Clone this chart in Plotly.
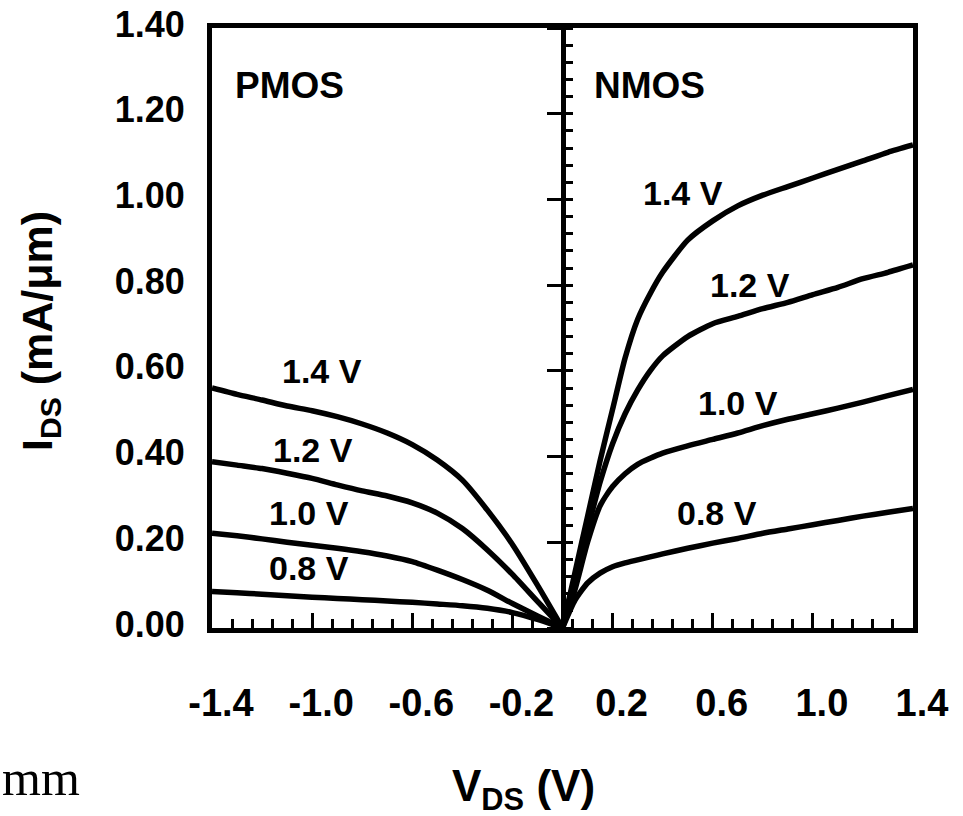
import plotly.graph_objects as go

# ---------------- data ----------------
gate_labels = ["1.4 V", "1.2 V", "1.0 V", "0.8 V"]

# NMOS output characteristics (V_DS >= 0)
nmos_vds = [0.0, 0.05, 0.1, 0.15, 0.2, 0.25, 0.3, 0.35, 0.4, 0.5, 0.6, 0.7, 0.8, 0.9, 1.0, 1.1, 1.2, 1.3, 1.4]
nmos_14 = [0.0, 0.13, 0.26, 0.39, 0.51, 0.63, 0.72, 0.78, 0.83, 0.905, 0.95, 0.985, 1.01, 1.03, 1.05, 1.07, 1.09, 1.11, 1.127]
nmos_12 = [0.0, 0.12, 0.23, 0.34, 0.43, 0.50, 0.555, 0.60, 0.635, 0.68, 0.71, 0.727, 0.745, 0.76, 0.778, 0.795, 0.815, 0.83, 0.847]
nmos_10 = [0.0, 0.09, 0.20, 0.285, 0.33, 0.36, 0.382, 0.396, 0.408, 0.425, 0.44, 0.455, 0.472, 0.487, 0.50, 0.513, 0.527, 0.542, 0.557]
nmos_08 = [0.0, 0.065, 0.105, 0.128, 0.143, 0.152, 0.159, 0.166, 0.173, 0.186, 0.198, 0.209, 0.221, 0.231, 0.241, 0.251, 0.261, 0.270, 0.279]

# PMOS output characteristics (V_DS <= 0), plotted as |I_DS|
pmos_vds = [-1.4, -1.3, -1.2, -1.1, -1.0, -0.9, -0.8, -0.7, -0.6, -0.5, -0.4, -0.3, -0.2, -0.1, 0.0]
pmos_14 = [0.56, 0.545, 0.532, 0.518, 0.507, 0.493, 0.476, 0.455, 0.428, 0.392, 0.345, 0.275, 0.195, 0.10, 0.0]
pmos_12 = [0.388, 0.38, 0.372, 0.361, 0.349, 0.334, 0.32, 0.308, 0.292, 0.268, 0.232, 0.182, 0.125, 0.062, 0.0]
pmos_10 = [0.221, 0.215, 0.208, 0.200, 0.193, 0.186, 0.178, 0.168, 0.155, 0.135, 0.113, 0.088, 0.057, 0.028, 0.0]
pmos_08 = [0.085, 0.082, 0.079, 0.075, 0.072, 0.069, 0.066, 0.063, 0.060, 0.056, 0.052, 0.046, 0.036, 0.020, 0.0]

x_tickvals = [-1.4, -1.0, -0.6, -0.2, 0.2, 0.6, 1.0, 1.4]
x_ticktext = ["-1.4", "-1.0", "-0.6", "-0.2", "0.2", "0.6", "1.0", "1.4"]
y_tickvals = [0.0, 0.2, 0.4, 0.6, 0.8, 1.0, 1.2, 1.4]
y_ticktext = ["0.00", "0.20", "0.40", "0.60", "0.80", "1.00", "1.20", "1.40"]

# label anchor positions (data coordinates)
nmos_label_pos = [(0.48, 1.015), (0.748, 0.80), (0.70, 0.525), (0.616, 0.268)]
pmos_label_pos = [(-0.96, 0.60), (-0.996, 0.415), (-1.012, 0.268), (-1.012, 0.14)]

# ---------------- figure ----------------
fig = go.Figure()
LW = 5.5
for ys in [nmos_14, nmos_12, nmos_10, nmos_08]:
    fig.add_trace(go.Scatter(x=nmos_vds, y=ys, mode="lines",
                             line=dict(color="black", width=LW, shape="spline", smoothing=0.6),
                             showlegend=False, hoverinfo="skip"))
for ys in [pmos_14, pmos_12, pmos_10, pmos_08]:
    fig.add_trace(go.Scatter(x=pmos_vds, y=ys, mode="lines",
                             line=dict(color="black", width=LW, shape="spline", smoothing=0.6),
                             showlegend=False, hoverinfo="skip"))
# empty trace so that the centre (V_DS = 0) axis is drawn
fig.add_trace(go.Scatter(x=[None], y=[None], yaxis="y2", mode="lines",
                         showlegend=False, hoverinfo="skip"))

FONT = "Liberation Sans, Arial, sans-serif"
lab_font = dict(family=FONT, size=34, color="black", weight="bold")

annotations = []
for (x, y), t in zip(nmos_label_pos, gate_labels):
    annotations.append(dict(x=x, y=y, xref="x", yref="y", text=t, showarrow=False, font=lab_font))
for (x, y), t in zip(pmos_label_pos, gate_labels):
    annotations.append(dict(x=x, y=y, xref="x", yref="y", text=t, showarrow=False, font=lab_font))
annotations.append(dict(x=-1.092, y=1.265, xref="x", yref="y", text="PMOS", showarrow=False,
                        font=dict(family=FONT, size=37, color="black", weight="bold")))
annotations.append(dict(x=0.348, y=1.265, xref="x", yref="y", text="NMOS", showarrow=False,
                        font=dict(family=FONT, size=37, color="black", weight="bold")))
# axis titles
annotations.append(dict(x=(523 - 212) / 701, y=(628 - 789) / 600, xref="paper", yref="paper",
                        text="V<sub>DS</sub> (V)", showarrow=False,
                        font=dict(family=FONT, size=44, color="black", weight="bold"),
                        xanchor="center", yanchor="middle"))
annotations.append(dict(x=(40 - 212) / 701, y=(628 - 331) / 600, xref="paper", yref="paper",
                        text="I<sub>DS</sub> (mA/μm)", showarrow=False, textangle=-90,
                        font=dict(family=FONT, size=43, color="black", weight="bold"),
                        xanchor="center", yanchor="middle"))
# stray text from page
annotations.append(dict(x=(0 - 212) / 701, y=(628 - 778) / 600, xref="paper", yref="paper",
                        text="mm", showarrow=False,
                        font=dict(family="Liberation Serif, Times New Roman, serif", size=50, color="black"),
                        xanchor="left", yanchor="middle"))

fig.update_layout(
    width=963, height=816,
    margin=dict(l=212, r=50, t=28, b=188),
    paper_bgcolor="white", plot_bgcolor="white",
    showlegend=False,
    annotations=annotations,
    xaxis=dict(
        range=[-1.4, 1.4], showgrid=False, zeroline=False, automargin=False,
        showline=True, linecolor="black", linewidth=5, mirror=True,
        tickmode="array", tickvals=x_tickvals, ticktext=x_ticktext,
        ticks="inside", ticklen=15, tickwidth=3, tickcolor="black",
        ticklabelstandoff=37, ticklabelshift=9,
        tickfont=dict(family=FONT, size=38, color="black", weight="bold"),
        minor=dict(tickmode="linear", tick0=-1.4, dtick=0.08, ticks="inside",
                   ticklen=9, tickwidth=3, tickcolor="black", showgrid=False),
    ),
    yaxis=dict(
        range=[0, 1.4], showgrid=False, zeroline=False, automargin=False,
        showline=True, linecolor="black", linewidth=5, mirror=True,
        tickmode="array", tickvals=y_tickvals, ticktext=y_ticktext,
        ticks="", ticklabelstandoff=15, ticklabelshift=-4,
        tickfont=dict(family=FONT, size=36, color="black", weight="bold"),
    ),
    yaxis2=dict(
        range=[0, 1.4], overlaying="y", anchor="free", position=0.5, side="left",
        automargin=False,
        showgrid=False, zeroline=False, showline=True, linecolor="black", linewidth=5,
        showticklabels=False,
        tickmode="linear", tick0=0, dtick=0.2,
        ticks="outside", ticklen=14, tickwidth=3, tickcolor="black",
        minor=dict(tickmode="linear", tick0=0, dtick=0.04, ticks="inside",
                   ticklen=7, tickwidth=3, tickcolor="black", showgrid=False),
    ),
)

fig.write_html("out.html", config={"displayModeBar": False},
               post_script="document.body.style.margin='0px';")
